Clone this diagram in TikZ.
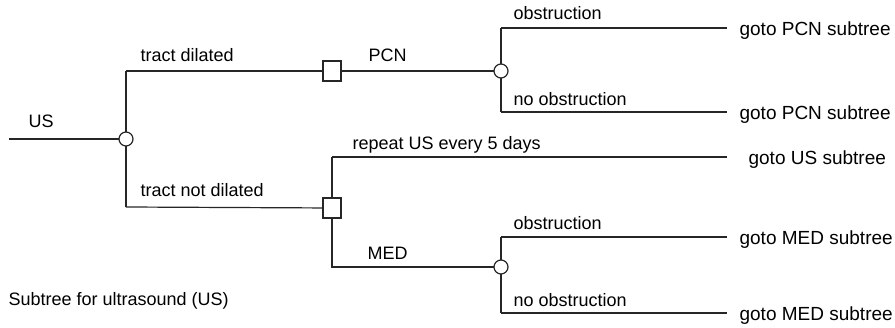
\documentclass[tikz,border=0pt]{standalone}
\usepackage{fontspec}
\setmainfont{Liberation Sans}
\begin{document}
\begin{tikzpicture}[x=1pt,y=-1pt,
  line width=1.2pt, draw=black!85,
  chance/.style={circle,draw=black!85,fill=white,line width=1.2pt,minimum size=14pt,inner sep=0pt},
  decision/.style={rectangle,draw=black!85,fill=white,line width=1.2pt,minimum width=18pt,minimum height=20pt,inner sep=0pt},
  lbl/.style={anchor=base west,inner sep=0pt,font=\fontsize{18}{20}\selectfont},
  leaf/.style={anchor=west,inner sep=0pt,font=\fontsize{19}{21}\selectfont}]
\useasboundingbox (0,0) rectangle (895,328);

% tree lines first, then nodes on top
\coordinate (start) at (9,139);
\coordinate (td) at (126,71);
\coordinate (tnd) at (126,207);
\coordinate (o1) at (501,28);
\coordinate (n1) at (501,112);
\coordinate (rep) at (332,157);
\coordinate (med) at (332,267);
\coordinate (o2) at (501,237);
\coordinate (n2) at (501,313);

\coordinate (e1) at (727,28);
\coordinate (e2) at (727,112);
\coordinate (e3) at (727,157);
\coordinate (e4) at (727,237);
\coordinate (e5) at (727,313);

\draw (start) -- (126,139) (td) -- (tnd);
\draw (td) -- (501,71);
\draw (o1) -- (n1);
\draw (o1) -- (e1) (n1) -- (e2);
\draw (tnd) -- (332,208);
\draw (rep) -- (med) -- (501,267);
\draw (rep) -- (e3);
\draw (o2) -- (n2);
\draw (o2) -- (e4) (n2) -- (e5);

\node[chance] (c1) at (126,139) {};
\node[decision] (s1) at (332,71) {};
\node[chance] (c2) at (501,71) {};
\node[decision] (s2) at (332,208) {};
\node[chance] (c3) at (501,267) {};

% branch labels
\node[lbl] (lUS) at (28,128) {US};
\node[lbl] (ltd) at (140,62) {tract dilated};
\node[lbl] (lpcn) at (368,62) {PCN};
\node[lbl] (lob1) at (513,20) {obstruction};
\node[lbl] (lno1) at (513,106) {no obstruction};
\node[lbl] (lrep) at (352,150) {repeat US every 5 days};
\node[lbl] (ltnd) at (140,197) {tract not dilated};
\node[lbl] (lmed) at (367,260) {MED};
\node[lbl] (lob2) at (513,230) {obstruction};
\node[lbl] (lno2) at (513,307) {no obstruction};
\node[lbl] (cap) at (8,306) {Subtree for ultrasound (US)};

% terminal labels
\node[leaf] (g1) at (739,31) {goto PCN subtree};
\node[leaf] (g2) at (739,115) {goto PCN subtree};
\node[leaf] (g3) at (748,160) {goto US subtree};
\node[leaf] (g4) at (739,240) {goto MED subtree};
\node[leaf] (g5) at (739,316) {goto MED subtree};
\end{tikzpicture}
\end{document}
